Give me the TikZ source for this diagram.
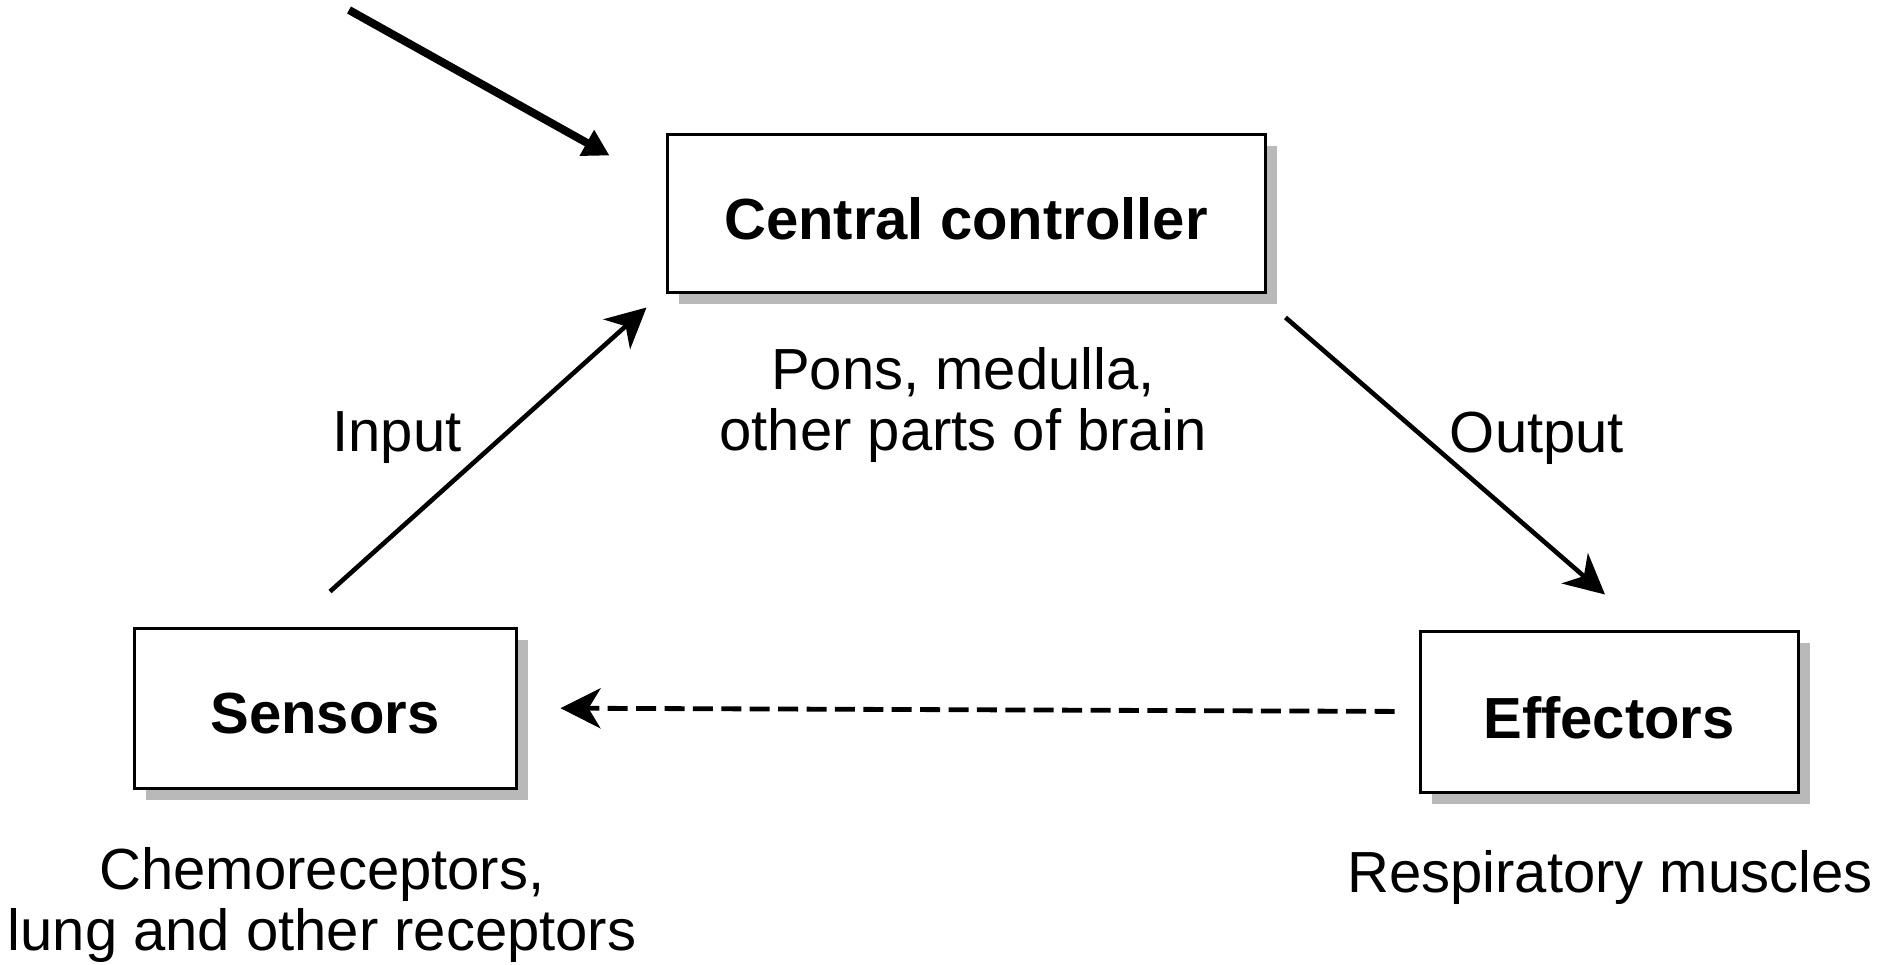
\documentclass[tikz,border=0pt]{standalone}
\usepackage{fontspec}
\setmainfont{Liberation Sans}
\usetikzlibrary{arrows.meta,shadows,calc}
\newcommand{\lowtext}[1]{\raisebox{-3pt}[\height][\depth]{#1}}
\begin{document}
\begin{tikzpicture}[x=0.5pt,y=-0.5pt,
  box/.style={draw=black, line width=1.5pt, fill=white, inner sep=0pt,
    font=\fontsize{29}{30.5}\selectfont\bfseries,
    drop shadow={shadow xshift=6pt, shadow yshift=-6pt, fill=gray!55, opacity=1}},
  lbl/.style={font=\fontsize{29}{30.5}\selectfont, align=center, inner sep=0pt},
  arr/.style={line width=2.3pt, -{Stealth[length=20pt,width=20pt,inset=6pt]}},
  toparr/.style={line width=4pt, -{Triangle[length=13pt,width=14pt]}},
  dashpat/.style={dash pattern=on 10pt off 4.2pt}]
\useasboundingbox (0,0) rectangle (1898,964);
\node[box, minimum width=299pt, minimum height=79pt] (cc) at (966,213) {\lowtext{Central controller}};
\node[box, minimum width=191pt, minimum height=80pt] (sen) at (325,708) {\lowtext{Sensors}};
\node[box, minimum width=189pt, minimum height=80.5pt] (eff) at (1609,711.5) {\lowtext{Effectors}};

\node[lbl] (brain) at (963,405) {Pons, medulla,\\other parts of brain};
\node[lbl] (inlbl) at (397,438) {Input};
\node[lbl] (outlbl) at (1537,438) {Output};
\node[lbl] (chem) at (322,905) {Chemoreceptors,\\lung and other receptors};
\node[lbl] (resp) at (1610,877) {Respiratory muscles};

\coordinate (topstart) at (349,10);
\coordinate (topend) at ($(cc.north west)+(-56,23)$);
\draw[toparr] (topstart) -- (topend);

\coordinate (inS) at ($(sen.north)+(5,-35)$);
\coordinate (inE) at ($(cc.south west)+(-19,14)$);
\draw[arr] (inS) -- (inE);

\coordinate (outS) at ($(cc.south east)+(19,24)$);
\coordinate (outE) at ($(eff.north)+(-4,-35)$);
\draw[arr] (outS) -- (outE);

\draw[arr, line width=2.4pt, shorten <=12pt, shorten >=21.5pt, dashpat] (eff.west) -- (sen.east);
\end{tikzpicture}
\end{document}
